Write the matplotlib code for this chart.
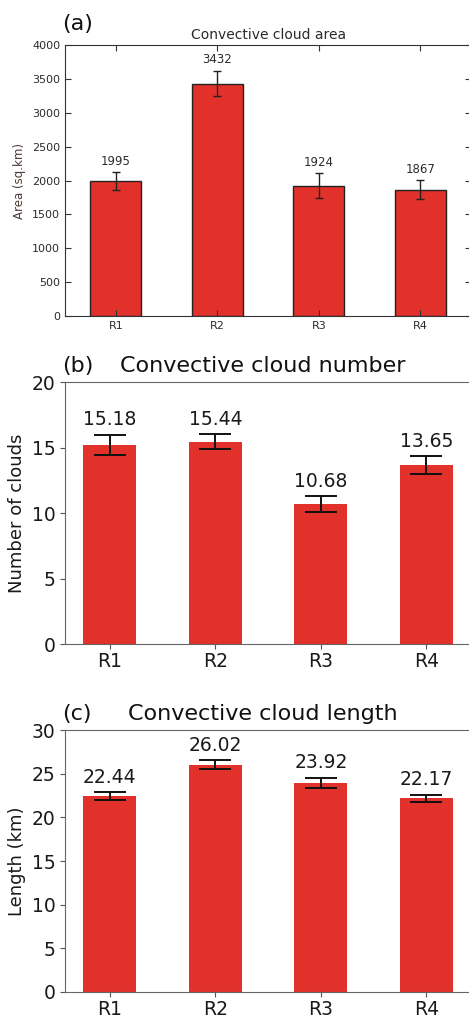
import numpy as np
import matplotlib
matplotlib.use("Agg")
import matplotlib.pyplot as plt

regions = ["R1", "R2", "R3", "R4"]

area = [1995, 3432, 1924, 1867]
area_err = [133, 190, 187, 140]

number = [15.18, 15.44, 10.68, 13.65]
number_err = [0.78, 0.58, 0.60, 0.68]

length = [22.44, 26.02, 23.92, 22.17]
length_err = [0.42, 0.53, 0.58, 0.42]

bar_red = "#e2302a"
text_col = "#2b2b2b"

fig = plt.figure(figsize=(4.69, 10.19), dpi=100)
x = np.arange(len(regions))

# (a) old-style panel: inward ticks on all sides, black bar edges
ax_a = fig.add_axes([0.1386, 0.6899, 0.866, 0.2659])
ax_a.bar(x, area, width=0.5, color=bar_red, edgecolor="#222222", linewidth=1.0)
ax_a.errorbar(x, area, yerr=area_err, fmt="none", ecolor="#222222",
              elinewidth=1.0, capsize=3, capthick=1.0)
for xi, v, e in zip(x, area, area_err):
    ax_a.annotate(str(v), (xi, v + e), xytext=(0, 3), textcoords="offset points",
                  ha="center", va="bottom", fontsize=8.5, color=text_col)
ax_a.set_xlim(-0.5, 3.5)
ax_a.set_ylim(0, 4000)
ax_a.set_yticks(range(0, 4001, 500))
ax_a.set_xticks(x)
ax_a.set_xticklabels(regions)
ax_a.tick_params(direction="in", top=True, right=True, length=4, labelsize=8,
                 labelcolor=text_col, color="#333333")
ax_a.set_ylabel("Area (sq.km)", fontsize=8.5, color="#4a3a34")
ax_a.set_title("Convective cloud area", fontsize=10, color=text_col, pad=4)
for s in ax_a.spines.values():
    s.set_color("#333333")
fig.text(0.132, 0.976, "(a)", fontsize=16, va="center", ha="left", color="#111111")


def modern_panel(rect, vals, errs, ylim, ylabel, label, title):
    ax = fig.add_axes(rect)
    ax.bar(x, vals, width=0.5, color=bar_red)
    ax.errorbar(x, vals, yerr=errs, fmt="none", ecolor="#111111",
                elinewidth=1.4, capsize=11.5, capthick=1.4)
    for xi, v, e in zip(x, vals, errs):
        ax.annotate(f"{v:.2f}", (xi, v + e), xytext=(0, 4), textcoords="offset points",
                    ha="center", va="bottom", fontsize=13.5, color="#1a1a1a")
    ax.set_ylim(*ylim)
    ax.set_xticks(x)
    ax.set_xticklabels(regions)
    ax.tick_params(labelsize=13.5, color="#555555", labelcolor="#1a1a1a")
    ax.tick_params(axis="x", pad=2.5)
    ax.set_ylabel(ylabel, fontsize=13, color="#1a1a1a")
    for s in ax.spines.values():
        s.set_color("#666666")
    pos = ax.get_position()
    fig.text(0.132, pos.y1 + 0.016, label, fontsize=16, va="center", ha="left",
             color="#111111")
    fig.text(title[1], pos.y1 + 0.016, title[0], fontsize=16, va="center",
             ha="left", color="#111111")
    return ax


ax_b = modern_panel([0.1386, 0.368, 0.866, 0.257], number, number_err, (0, 20),
                    "Number of clouds", "(b)", ("Convective cloud number", 0.256))
ax_b.set_yticks(range(0, 21, 5))

ax_c = modern_panel([0.1386, 0.0265, 0.866, 0.2571], length, length_err, (0, 30),
                    "Length (km)", "(c)", ("Convective cloud length", 0.273))
ax_c.set_yticks(range(0, 31, 5))

fig.savefig("out.png", dpi=100)
